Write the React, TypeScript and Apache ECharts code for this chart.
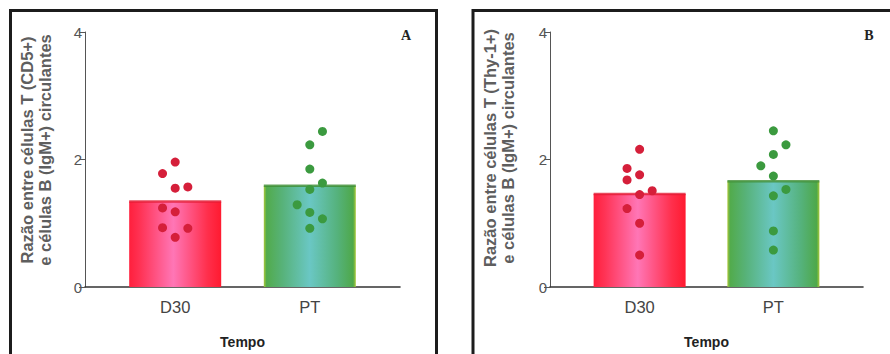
import React, { useEffect, useRef } from "react";
import * as echarts from "echarts";

// Groups and their means (bar heights)
const groups = ["D30", "PT"];
const meansA = [1.34, 1.59];
const meansB = [1.46, 1.66];

// Individual animals: lane (-1 left, 0 centre, 1 right) and ratio value
const laneA_D30 = [0, -1, 0, 1, -1, 0, -1, 1, 0];
const valsA_D30 = [1.96, 1.78, 1.55, 1.57, 1.24, 1.18, 0.93, 0.92, 0.78];
const laneA_PT = [1, 0, 0, 1, 0, -1, 0, 1, 0];
const valsA_PT = [2.44, 2.23, 1.85, 1.63, 1.53, 1.29, 1.17, 1.07, 0.92];

const laneB_D30 = [0, -1, 0, -1, 1, 0, -1, 0, 0];
const valsB_D30 = [2.16, 1.86, 1.76, 1.68, 1.51, 1.45, 1.23, 1.0, 0.5];
const laneB_PT = [0, 1, 0, -1, 0, 1, 0, 0, 0];
const valsB_PT = [2.45, 2.23, 2.08, 1.9, 1.74, 1.53, 1.43, 0.88, 0.58];

const yTicks = [0, 2, 4];
const xTitle = "Tempo";
const yTitleA = "Razão entre células T (CD5+)\ne células B (IgM+) circulantes";
const yTitleB = "Razão entre células T (Thy-1+)\ne células B (IgM+) circulantes";
const panelLetters = ["A", "B"];

const FONT = '"Liberation Sans", Arial, Helvetica, sans-serif';
const SERIF = '"Liberation Serif", "Times New Roman", serif';
const LANE_STEP = 0.094;

const redGrad = () =>
  new echarts.graphic.LinearGradient(0, 0, 1, 0, [
    { offset: 0, color: "#ff1f3c" },
    { offset: 0.12, color: "#ff3355" },
    { offset: 0.48, color: "#ff76b6" },
    { offset: 0.85, color: "#ff2f4c" },
    { offset: 1, color: "#ff1a30" },
  ]);
const greenGrad = () =>
  new echarts.graphic.LinearGradient(0, 0, 1, 0, [
    { offset: 0, color: "#a9c83a" },
    { offset: 0.03, color: "#52ab4c" },
    { offset: 0.2, color: "#57b279" },
    { offset: 0.5, color: "#6ac7c4" },
    { offset: 0.8, color: "#55b27c" },
    { offset: 0.97, color: "#4ea84a" },
    { offset: 1, color: "#a9c83a" },
  ]);

const toPoints = (group: number, lanes: number[], vals: number[]) =>
  vals.map((v, i) => [group + lanes[i] * LANE_STEP, v]);

function panelSeries(idx: number, means: number[], pts: number[][][]) {
  return [
    {
      type: "bar",
      xAxisIndex: idx,
      yAxisIndex: idx,
      barWidth: 92,
      data: means.map((m, i) => ({
        value: [i + 1, m],
        itemStyle: { color: i === 0 ? redGrad() : greenGrad() },
      })),
      silent: true,
    },
    {
      // darker cap on each bar at the mean
      type: "scatter",
      xAxisIndex: idx,
      yAxisIndex: idx,
      symbol: "rect",
      symbolSize: [92, 2.5],
      data: means.map((m, i) => ({
        value: [i + 1, m],
        itemStyle: { color: i === 0 ? "#e41c34" : "#3f8f34" },
      })),
      silent: true,
    },
    {
      type: "scatter",
      xAxisIndex: idx,
      yAxisIndex: idx,
      symbolSize: 9,
      itemStyle: { color: "#d51f3a", opacity: 1 },
      data: pts[0],
      silent: true,
    },
    {
      type: "scatter",
      xAxisIndex: idx,
      yAxisIndex: idx,
      symbolSize: 9,
      itemStyle: { color: "#3b9a3f", opacity: 1 },
      data: pts[1],
      silent: true,
    },
  ];
}

function xAxisFor(idx: number) {
  return {
    gridIndex: idx,
    type: "value",
    min: 0.33,
    max: 2.67,
    splitLine: { show: false },
    axisTick: { show: false },
    axisLine: { show: true, lineStyle: { color: "#333", width: 1.6 } },
    axisLabel: {
      margin: 11,
      fontSize: 16.5,
      fontFamily: FONT,
      color: "#444",
      showMinLabel: false,
      showMaxLabel: false,
      formatter: (v: number) => {
        const k = Math.round(v);
        return Math.abs(v - k) < 1e-6 && k >= 1 && k <= groups.length ? groups[k - 1] : "";
      },
    },
    name: xTitle,
    nameLocation: "middle",
    nameGap: 48,
    nameTextStyle: { fontFamily: FONT, fontWeight: "bold", fontSize: 14, color: "#222" },
  };
}

function yAxisFor(idx: number) {
  return {
    gridIndex: idx,
    type: "value",
    min: yTicks[0],
    max: yTicks[yTicks.length - 1],
    interval: 2,
    splitLine: { show: false },
    axisLine: { show: true, lineStyle: { color: "#555", width: 1 } },
    axisTick: { show: true, length: 6, lineStyle: { color: "#555", width: 1 } },
    axisLabel: { margin: 3, fontSize: 15, fontFamily: FONT, color: "#555" },
  };
}

export default function App() {
  const ref = useRef<HTMLDivElement>(null);

  useEffect(() => {
    if (!ref.current) return;
    const chart = echarts.init(ref.current, null, { renderer: "svg" });
    chart.setOption({
      animation: false,
      backgroundColor: "#ffffff",
      grid: [
        { left: 85, top: 32, width: 315, height: 256 },
        { left: 550, top: 32, width: 313, height: 256 },
      ],
      xAxis: [xAxisFor(0), xAxisFor(1)],
      yAxis: [yAxisFor(0), yAxisFor(1)],
      series: [
        ...panelSeries(0, meansA, [
          toPoints(1, laneA_D30, valsA_D30),
          toPoints(2, laneA_PT, valsA_PT),
        ]),
        ...panelSeries(1, meansB, [
          toPoints(1, laneB_D30, valsB_D30),
          toPoints(2, laneB_PT, valsB_PT),
        ]),
      ],
      graphic: [
        {
          type: "rect",
          shape: { x: 10.5, y: 10.5, width: 426, height: 380 },
          style: { fill: "none", stroke: "#1c1c1c", lineWidth: 3 },
          silent: true,
        },
        {
          type: "rect",
          shape: { x: 473, y: 10.5, width: 440, height: 380 },
          style: { fill: "none", stroke: "#1c1c1c", lineWidth: 3 },
          silent: true,
        },
        {
          type: "text",
          x: 36,
          y: 150,
          rotation: Math.PI / 2,
          style: {
            text: yTitleA,
            font: `bold 16.5px ${FONT}`,
            fill: "#5e5e5e",
            align: "center",
            verticalAlign: "middle",
            lineHeight: 17.5,
          },
          silent: true,
        },
        {
          type: "text",
          x: 499,
          y: 148,
          rotation: Math.PI / 2,
          style: {
            text: yTitleB,
            font: `bold 16.5px ${FONT}`,
            fill: "#5e5e5e",
            align: "center",
            verticalAlign: "middle",
            lineHeight: 17.5,
          },
          silent: true,
        },
        {
          type: "text",
          x: 406,
          y: 35,
          style: {
            text: panelLetters[0],
            font: `bold 14px ${SERIF}`,
            fill: "#222",
            align: "center",
            verticalAlign: "middle",
          },
          silent: true,
        },
        {
          type: "text",
          x: 869,
          y: 35,
          style: {
            text: panelLetters[1],
            font: `bold 14px ${SERIF}`,
            fill: "#222",
            align: "center",
            verticalAlign: "middle",
          },
          silent: true,
        },
      ],
    });
    return () => chart.dispose();
  }, []);

  return (
    <div
      ref={ref}
      style={{ position: "fixed", left: 0, top: 0, width: 890, height: 354 }}
    />
  );
}
